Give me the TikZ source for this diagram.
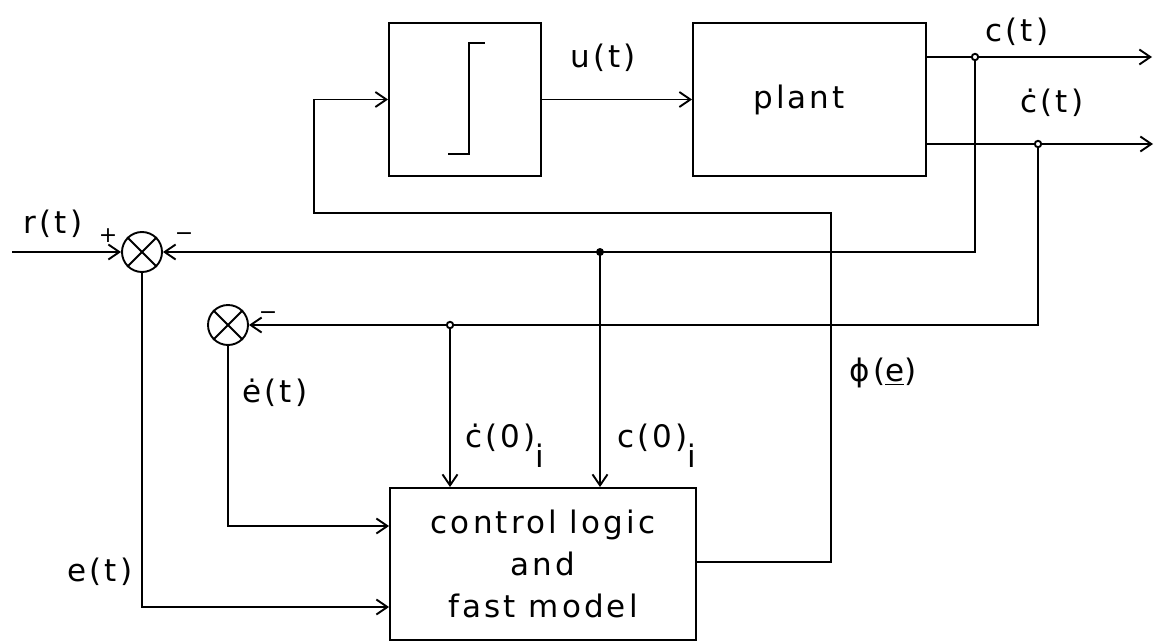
\documentclass[tikz,border=0pt]{standalone}
\usepackage{fontspec}
\setmainfont{DejaVu Sans}[LetterSpace=10]
\usetikzlibrary{arrows.meta}
\begin{document}
\begin{tikzpicture}[x=0.5pt,y=-0.5pt,line width=0.95pt,
  every node/.style={font=\fontsize{15.5pt}{21pt}\selectfont},
  arr/.style={-{Straight Barb[length=5.5pt,width=7.5pt]}},
  blk/.style={draw,rectangle,inner sep=0pt},
  sumj/.style={draw,circle,inner sep=0pt,minimum size=20pt},
  opendot/.style={draw,fill=white,circle,inner sep=0pt,minimum size=3.2pt},
  fulldot/.style={fill,circle,inner sep=0pt,minimum size=4pt},
  sgn/.style={font=\fontsize{11pt}{12pt}\selectfont,inner sep=0pt}]
\useasboundingbox (0,0) rectangle (1165,642);
% blocks
\node[blk,minimum width=76pt,minimum height=76.5pt] (relay) at (465,99.5) {};
\node[blk,minimum width=116.5pt,minimum height=76.5pt] (plant) at (809.5,99.5) {};
\node[blk,minimum width=153pt,minimum height=76pt,align=center] (ctrl) at (543,564)
  {control logic\\and\\fast model};
\node (plantlbl) at (799,100) {plant};
% relay symbol
\draw (448,154) -- (469,154) -- (469,43) -- (485,43);
% summing junctions
\node[sumj] (s1) at (142,252) {};
\node[sumj] (s2) at (228,325) {};
\foreach \s in {s1,s2}{
  \draw (\s.north west) -- (\s.south east);
  \draw (\s.north east) -- (\s.south west);
}
% coordinates
\coordinate (rin) at (12,252);
\coordinate (jc) at (975,57);
\coordinate (jcd) at (1038,144);
\coordinate (jfb) at (600,252);
\coordinate (jfd) at (450,325);
\coordinate (cout) at (1152,57);
\coordinate (cdout) at (1153,144);
\coordinate (ein) at (390,607);
\coordinate (edin) at (390,526);
\coordinate (phic) at (831,562);
\coordinate (phit) at (831,213);
\coordinate (phil) at (314,213);
% connectors
\draw[arr] (rin) -- (s1.west);
\draw[arr] (relay.east) -- (plant.west);
\draw[arr] (plant.east |- jc) -- (cout);
\draw[arr] (plant.east |- jcd) -- (cdout);
\draw[arr] (jc) -- (jc |- s1) -- (s1.east);
\draw[arr] (jcd) -- (jcd |- s2) -- (s2.east);
\draw[arr] (jfb) -- (jfb |- ctrl.north);
\draw[arr] (jfd) -- (jfd |- ctrl.north);
\draw[arr] (s1.south) |- (ctrl.west |- ein);
\draw[arr] (s2.south) |- (ctrl.west |- edin);
\draw[arr] (ctrl.east |- phic) -- (phic) -- (phit) -- (phil) |- (relay.west);
% junction dots
\node[opendot] at (jc) {};
\node[opendot] at (jcd) {};
\node[opendot] at (jfd) {};
\node[fulldot] at (jfb) {};
% labels
\node (lr) at (53,224) {r(t)};
\node[sgn] (lp) at (108,236) {+};
\node[sgn] (lm1) at (184,237) {−};
\node[sgn] (lm2) at (268,316) {−};
\node (lu) at (603,58) {u(t)};
\node (lc) at (1017,32) {c(t)};
\node (lcd) at (1052,103) {ċ(t)};
\node (led) at (275,393) {ė(t)};
\node[anchor=base west] (lc0d) at (458,447) {ċ(0)\raisebox{-10pt}{i}};
\node[anchor=base west] (lc0) at (610,447) {c(0)\raisebox{-10pt}{i}};
\node (lphi) at (883,373) {ϕ(\underline{e})};
\node (le) at (100,572) {e(t)};
\end{tikzpicture}
\end{document}
